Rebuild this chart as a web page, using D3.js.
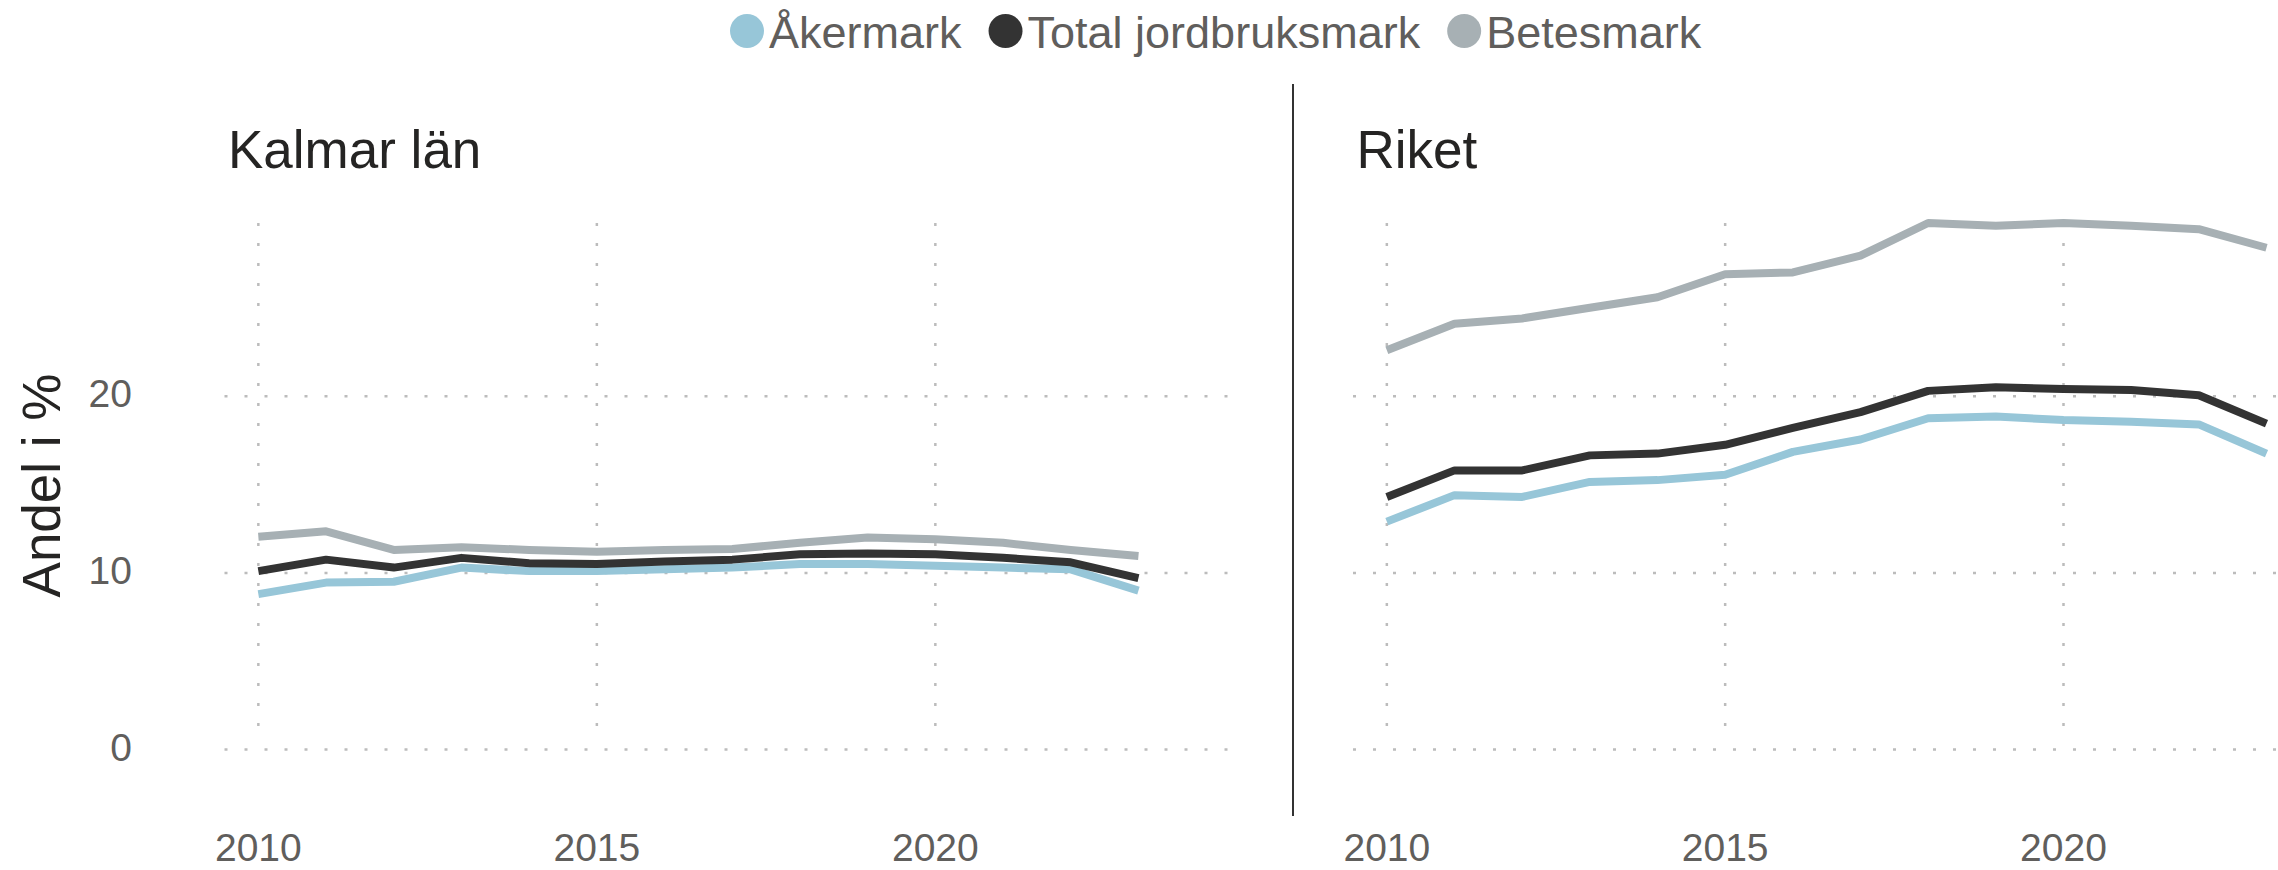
<!DOCTYPE html>
<html>
<head>
<meta charset="utf-8">
<script src="https://cdnjs.cloudflare.com/ajax/libs/d3/7.8.5/d3.min.js"></script>
<style>
  body { margin: 0; background: #fff; }
  svg { display: block; font-family: "Liberation Sans", Arial, sans-serif; }
</style>
</head>
<body>
<script>
// data (andel i %)
var years = [2010, 2011, 2012, 2013, 2014, 2015, 2016, 2017, 2018, 2019, 2020, 2021, 2022, 2023];

var kalmarAker  = [8.8, 9.45, 9.5, 10.3, 10.1, 10.1, 10.2, 10.3, 10.5, 10.5, 10.4, 10.3, 10.2, 9.0];
var kalmarTotal = [10.1, 10.75, 10.3, 10.85, 10.55, 10.5, 10.65, 10.75, 11.05, 11.1, 11.05, 10.85, 10.6, 9.7];
var kalmarBete  = [12.05, 12.35, 11.3, 11.45, 11.3, 11.2, 11.3, 11.35, 11.7, 12.0, 11.9, 11.7, 11.3, 10.95];

var riketAker  = [12.9, 14.4, 14.3, 15.15, 15.25, 15.55, 16.85, 17.55, 18.75, 18.85, 18.65, 18.55, 18.4, 16.75];
var riketTotal = [14.3, 15.8, 15.8, 16.65, 16.75, 17.25, 18.2, 19.1, 20.3, 20.5, 20.4, 20.35, 20.05, 18.45];
var riketBete  = [22.6, 24.1, 24.4, 25.0, 25.6, 26.9, 27.0, 27.95, 29.8, 29.65, 29.8, 29.65, 29.45, 28.4];

var seriesNames = ["Åkermark", "Total jordbruksmark", "Betesmark"];
var seriesColors = ["#97c6d8", "#333333", "#a7b0b4"];
var yTicks = [0, 10, 20];
var xTicks = [2010, 2015, 2020];

var panels = [
    { title: "Kalmar län", series: [kalmarAker, kalmarTotal, kalmarBete], x0: 224.5, x1: 1240 },
    { title: "Riket", series: [riketAker, riketTotal, riketBete], x0: 1353, x1: 2368 }
];

const width = 2278, height = 870;
const plotTop = 223, plotBottom = 749.6;

const svg = d3.select("body").append("svg")
    .attr("width", width)
    .attr("height", height);

// shared y scale, top = largest value
var allVals = d3.merge(panels.map(p => d3.merge(p.series)));
var y = d3.scaleLinear()
    .domain([0, d3.max(allVals)])
    .range([plotBottom, plotTop]);

var gridColor = "#bcbcbc";

panels.forEach(function(p, pi) {
    var x = d3.scaleLinear()
        .domain([2009.5, 2024.5])
        .range([p.x0, p.x1]);

    const g = svg.append("g");

    // vertical dotted grid
    g.append("g").selectAll("line")
        .data(xTicks)
        .join("line")
        .attr("x1", d => x(d)).attr("x2", d => x(d))
        .attr("y1", plotTop).attr("y2", plotBottom - 12)
        .attr("stroke", gridColor)
        .attr("stroke-width", 2.5)
        .attr("stroke-dasharray", "3,17");

    // horizontal dotted grid
    g.append("g").selectAll("line")
        .data(yTicks)
        .join("line")
        .attr("x1", p.x0).attr("x2", Math.min(p.x1, width))
        .attr("y1", d => y(d)).attr("y2", d => y(d))
        .attr("stroke", gridColor)
        .attr("stroke-width", 2.5)
        .attr("stroke-dasharray", "3,17");

    // x tick labels
    g.append("g").selectAll("text")
        .data(xTicks)
        .join("text")
        .attr("x", d => x(d))
        .attr("y", 861)
        .attr("text-anchor", "middle")
        .attr("fill", "#605e5c")
        .style("font-size", "39px")
        .text(d => d);

    // y tick labels only on the first panel
    if (pi == 0) {
        g.append("g").selectAll("text")
            .data(yTicks)
            .join("text")
            .attr("x", 132)
            .attr("y", d => y(d) + 11)
            .attr("text-anchor", "end")
            .attr("fill", "#605e5c")
            .style("font-size", "39px")
            .text(d => d);
    }

    // panel title
    g.append("text")
        .attr("x", p.x0 + 3.5)
        .attr("y", 168)
        .attr("fill", "#252423")
        .style("font-size", "53px")
        .text(p.title);

    const line = d3.line()
        .x((d, i) => x(years[i]))
        .y(d => y(d));

    g.append("g").selectAll("path")
        .data(p.series)
        .join("path")
        .attr("d", line)
        .attr("fill", "none")
        .attr("stroke", (d, i) => seriesColors[i])
        .attr("stroke-width", 8)
        .attr("stroke-linejoin", "round");
});

// divider between the panels
svg.append("line")
    .attr("x1", 1293).attr("x2", 1293)
    .attr("y1", 84).attr("y2", 816)
    .attr("stroke", "#333")
    .attr("stroke-width", 2);

// y axis title
svg.append("text")
    .attr("transform", "translate(60,485.5) rotate(-90)")
    .attr("text-anchor", "middle")
    .attr("fill", "#252423")
    .style("font-size", "53px")
    .text("Andel i %");

// legend
const legend = svg.append("g");
var lx = 730;
seriesNames.forEach(function(name, i) {
    legend.append("circle")
        .attr("cx", lx + 17)
        .attr("cy", 31)
        .attr("r", 17)
        .attr("fill", seriesColors[i]);
    var t = legend.append("text")
        .attr("x", lx + 39)
        .attr("y", 48)
        .attr("fill", "#605e5c")
        .style("font-size", "45px")
        .text(name);
    lx = lx + 39 + t.node().getComputedTextLength() + 27;
});
</script>
</body>
</html>
